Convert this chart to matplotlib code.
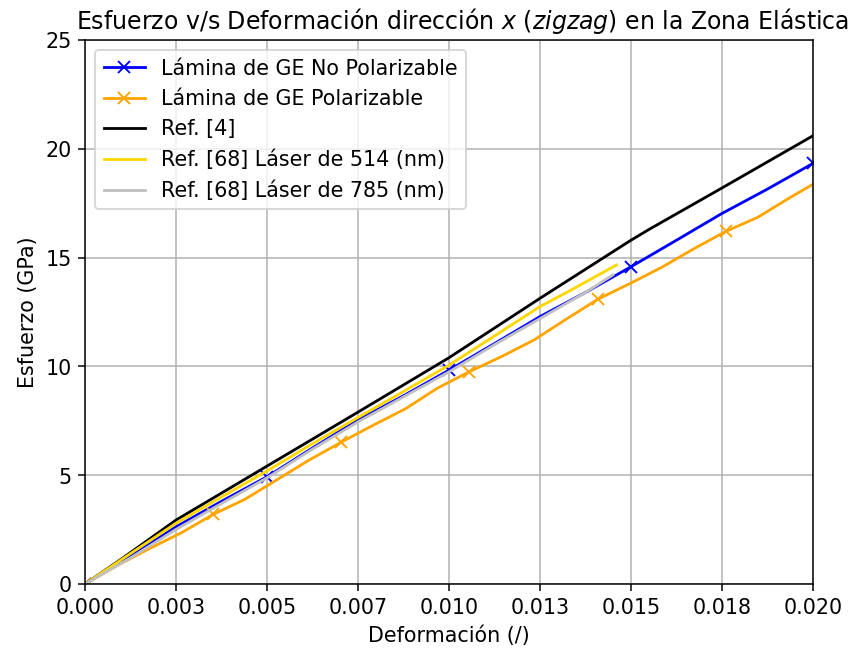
import numpy as np
import matplotlib
matplotlib.use("Agg")
import matplotlib.pyplot as plt
from matplotlib.ticker import FormatStrFormatter

plt.rcParams["font.size"] = 11

# Lámina de GE no polarizable
def_no_pol = [0, 0.00125, 0.0025, 0.00375, 0.005, 0.00625, 0.0075, 0.00875, 0.010,
              0.01125, 0.0125, 0.01375, 0.015, 0.01625, 0.0175, 0.01875, 0.020]
esf_no_pol = [0, 1.30, 2.63, 3.80, 4.93, 6.25, 7.54, 8.65, 9.83,
              11.05, 12.29, 13.40, 14.58, 15.80, 17.03, 18.15, 19.33]

# Lámina de GE polarizable
def_pol = [0, 0.00088, 0.00176, 0.00264, 0.00352, 0.0044, 0.00528, 0.00616, 0.00704,
           0.00792, 0.0088, 0.00968, 0.01056, 0.01144, 0.01232, 0.0132, 0.01408,
           0.01496, 0.01584, 0.01672, 0.0176, 0.01848, 0.01936, 0.020]
esf_pol = [0, 0.85, 1.62, 2.35, 3.20, 3.90, 4.80, 5.70, 6.52,
           7.30, 8.05, 9.00, 9.76, 10.45, 11.20, 12.15, 13.08,
           13.80, 14.55, 15.40, 16.20, 16.85, 17.75, 18.37]

# Ref. [4]
def_ref4 = [0, 0.001, 0.0025, 0.005, 0.0075, 0.010, 0.0125, 0.015, 0.0155, 0.0175, 0.020]
esf_ref4 = [0, 1.15, 2.94, 5.42, 7.90, 10.40, 13.13, 15.80, 16.30, 18.20, 20.60]

# Ref. [68] láser 514 nm
def_514 = [0, 0.00125, 0.0025, 0.00375, 0.005, 0.00625, 0.0075, 0.00875, 0.010,
           0.01125, 0.0125, 0.0134, 0.0141, 0.0146]
esf_514 = [0, 1.40, 2.79, 4.00, 5.20, 6.45, 7.65, 8.85, 10.06,
           11.40, 12.75, 13.55, 14.20, 14.66]

# Ref. [68] láser 785 nm
def_785 = [0, 0.00125, 0.0025, 0.00375, 0.005, 0.00625, 0.0075, 0.00875, 0.010,
           0.01125, 0.0125, 0.01375, 0.0145]
esf_785 = [0, 1.20, 2.51, 3.70, 4.88, 6.20, 7.45, 8.60, 9.75,
           11.00, 12.20, 13.40, 14.20]

fig, ax = plt.subplots(figsize=(6.32, 4.81), dpi=135)
fig.subplots_adjust(left=0.0996, right=0.953, top=0.938, bottom=0.100)

ax.plot(def_no_pol, esf_no_pol, color="blue", marker="x", markevery=4,
        label="Lámina de GE No Polarizable")
ax.plot(def_pol, esf_pol, color="orange", marker="x", markevery=4,
        label="Lámina de GE Polarizable")
ax.plot(def_ref4, esf_ref4, color="black", label="Ref. [4]")
ax.plot(def_514, esf_514, color="gold", label="Ref. [68] Láser de 514 (nm)")
ax.plot(def_785, esf_785, color="silver", label="Ref. [68] Láser de 785 (nm)")

ax.set_xlim(0, 0.020)
ax.set_ylim(0, 25)
ax.set_xticks(np.arange(0, 0.0201, 0.0025))
ax.xaxis.set_major_formatter(FormatStrFormatter("%.3f"))
ax.set_xlabel("Deformación (/)")
ax.set_ylabel("Esfuerzo (GPa)")
ax.set_title("Esfuerzo v/s Deformación dirección $x$ ($zigzag$) en la Zona Elástica",
             fontsize=12.6, x=0.518)
ax.grid(True)
ax.legend(loc="upper left")

fig.savefig("out.png", dpi=135)
